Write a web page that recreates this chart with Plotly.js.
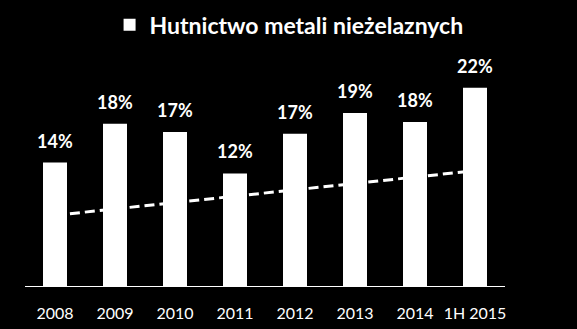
<!DOCTYPE html>
<html><head><meta charset="utf-8">
<script src="https://cdn.plot.ly/plotly-3.0.1.min.js"></script>
<style>html,body{margin:0;padding:0;background:#000;}#chart{width:577px;height:329px;}</style>
</head><body><div id="chart"></div>
<script>
const categories = ['2008','2009','2010','2011','2012','2013','2014','1H 2015'];
const values = [13.7, 18.0, 17.1, 12.5, 16.9, 19.2, 18.2, 22.0];
const labels = ['14%','18%','17%','12%','17%','19%','18%','22%'];
const seriesName = 'Hutnictwo metali nieżelaznych';
const trendX = ['2008','1H 2015'];
const trendY = [7.85, 12.8];

const FONT = 'Lato, "Open Sans", sans-serif';

const traces = [
  {type:'bar', name:seriesName, x:categories, y:values, width:0.4,
   marker:{color:'#ffffff', line:{width:0}}, showlegend:true},
  {type:'scatter', mode:'lines', x:trendX, y:trendY, showlegend:false, hoverinfo:'skip',
   line:{color:'#ffffff', width:3, dash:'10px,5px'}}
];

const annotations = categories.map((c,i)=>({
  x:i, y:values[i], xref:'x', yref:'y', text:labels[i], showarrow:false,
  yanchor:'bottom', yshift:9,
  font:{family:FONT, size:18, color:'#ffffff', weight:'bold'}
}));

const layout = {
  width:577, height:329,
  paper_bgcolor:'#000000', plot_bgcolor:'#000000',
  margin:{l:25, r:72, t:50, b:43},
  font:{family:FONT, color:'#ffffff'},
  showlegend:true,
  legend:{orientation:'h', x:0.501, xref:'container', xanchor:'center', y:0.99, yref:'container', yanchor:'top',
    font:{family:FONT, size:23, color:'#ffffff', weight:'bold'}, bgcolor:'rgba(0,0,0,0)'},
  xaxis:{type:'category', categoryorder:'array', categoryarray:categories, range:[-0.5, categories.length-0.5],
    showline:true, linecolor:'#ffffff', linewidth:1, ticks:'', showgrid:false,
    zeroline:false, tickfont:{family:FONT, size:16, color:'#ffffff'}, ticklabelstandoff:13, fixedrange:true},
  yaxis:{range:[0,26.2], visible:false, showgrid:false, zeroline:false, fixedrange:true},
  annotations:annotations
};

Plotly.newPlot('chart', traces, layout, {displayModeBar:false, staticPlot:true});
</script></body></html>
